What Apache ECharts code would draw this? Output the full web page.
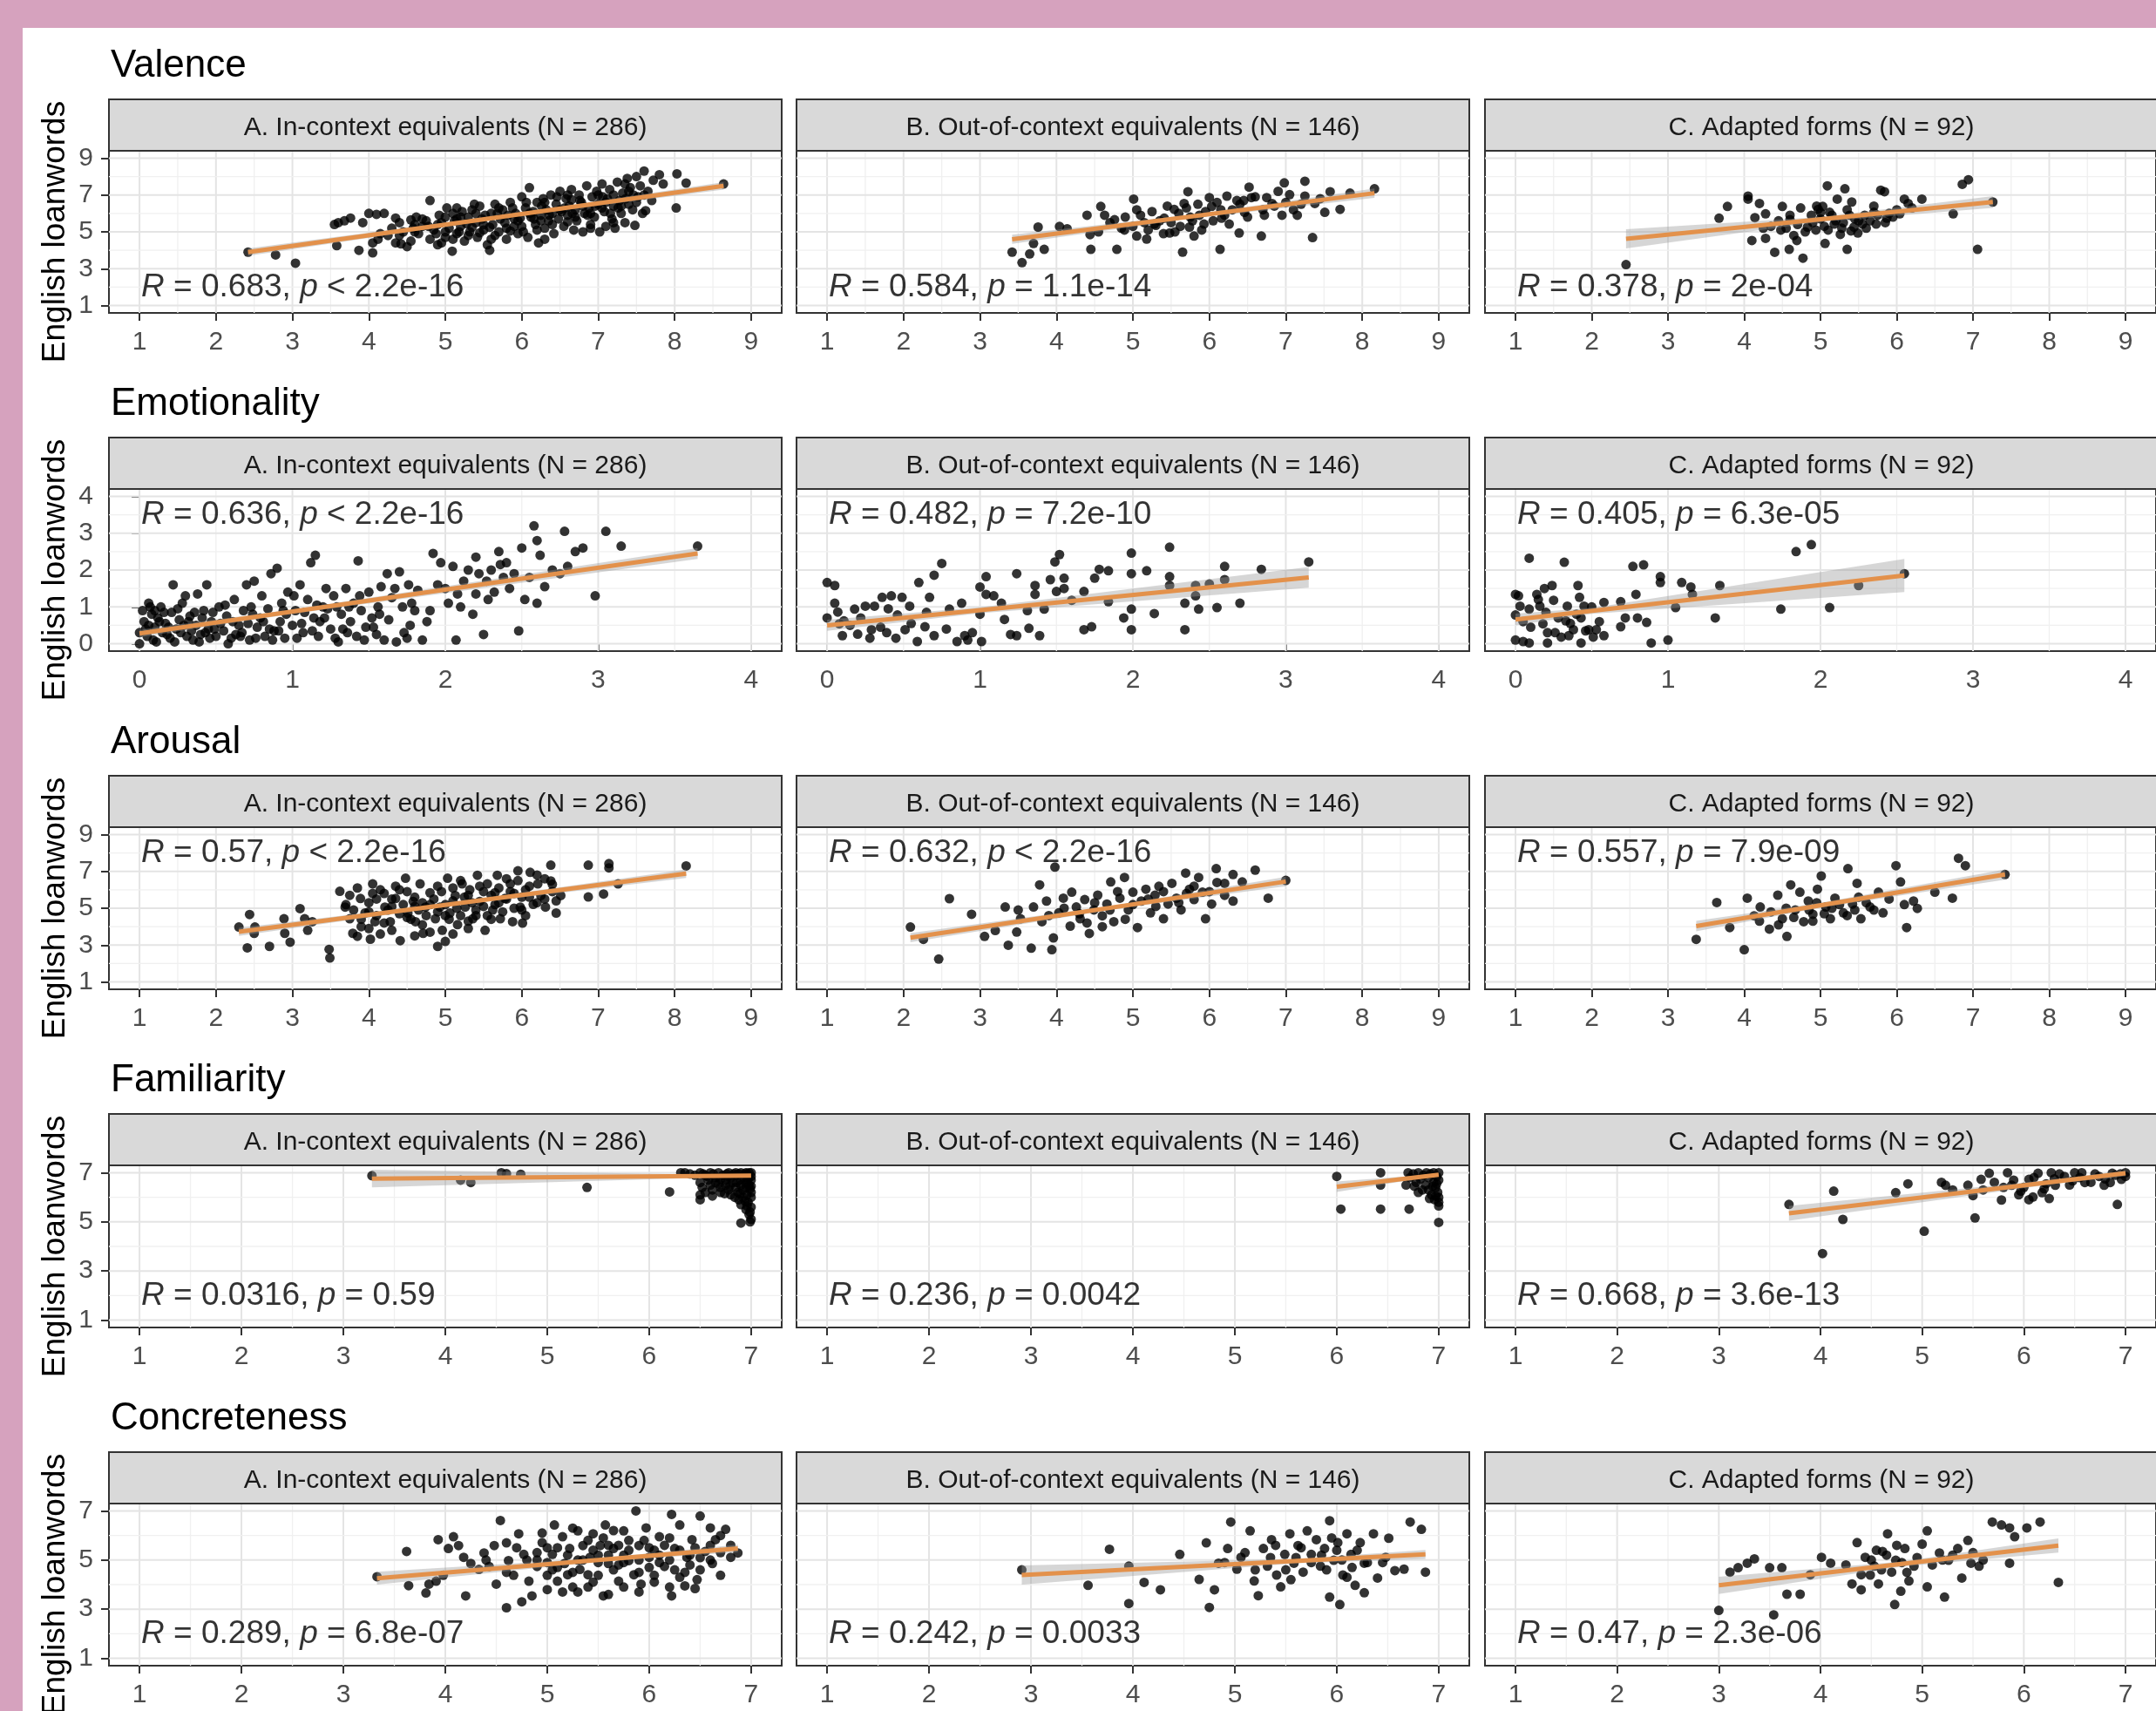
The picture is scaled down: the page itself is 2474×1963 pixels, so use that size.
<!DOCTYPE html>
<html><head><meta charset="utf-8">
<script src="https://cdn.jsdelivr.net/npm/echarts@6/dist/echarts.min.js"></script>
<style>
html,body{margin:0;padding:0;background:#d6a2be;width:2474px;height:1963px;overflow:hidden;}
#c{position:absolute;left:26px;top:32px;width:2448px;height:1931px;background:#fff;}
</style></head>
<body><div id="c"></div>
<script>
// ---------- text ----------
const rowTitles = ['Valence','Emotionality','Arousal','Familiarity','Concreteness'];
const stripLabels = ['A. In-context equivalents (N = 286)','B. Out-of-context equivalents (N = 146)','C. Adapted forms (N = 92)'];
const yAxisTitle = 'English loanwords';
// ---------- tick labels ----------
const ticks1to9 = [1,2,3,4,5,6,7,8,9];
const ticksOdd9 = [1,3,5,7,9];
const ticks0to4 = [0,1,2,3,4];
const ticks1to7 = [1,2,3,4,5,6,7];
const ticksOdd7 = [1,3,5,7];
// ---------- correlation statistics ----------
const rValues = [['0.683','0.584','0.378'],['0.636','0.482','0.405'],['0.57','0.632','0.557'],['0.0316','0.236','0.668'],['0.289','0.242','0.47']];
const pTexts = [['< 2.2e-16','= 1.1e-14','= 2e-04'],['< 2.2e-16','= 7.2e-10','= 6.3e-05'],['< 2.2e-16','< 2.2e-16','= 7.9e-09'],['= 0.59','= 0.0042','= 3.6e-13'],['= 6.8e-07','= 0.0033','= 2.3e-06']];
const statLabelPos = [[1,2],[0,3.5],[1,8],[1,2],[1,2]];

// ---------- Valence ----------
const valA = [[2.42,3.9],[2.78,3.75],[3.04,3.3],[3.55,5.4],[3.6,5.5],[3.68,5.6],[3.76,5.75],[3.58,4.25],[3.87,4.0],[3.92,5.5],[4.0,6.0],[4.1,5.95],[4.2,6.0],[4.05,3.86],[4.05,4.4],[4.12,4.6],[4.15,4.9],[4.3,5.2],[4.35,5.75],[4.4,5.5],[4.42,4.35],[4.5,4.2],[4.55,4.5],[4.6,5.4],[4.62,5.8],[4.7,5.3],[4.75,5.6],[4.8,6.7],[4.85,5.1],[4.9,4.3],[4.92,5.9],[4.95,5.5],[5.0,4.7],[5.05,5.2],[5.09,3.95],[5.1,6.0],[5.12,5.6],[5.15,4.9],[5.2,5.3],[5.22,6.1],[5.25,4.5],[5.3,5.8],[5.32,5.0],[5.35,6.2],[5.4,5.5],[5.42,4.7],[5.45,6.4],[5.5,5.1],[5.52,5.9],[5.55,4.3],[5.58,4.0],[5.6,6.0],[5.62,5.4],[5.65,6.5],[5.7,5.0],[5.72,5.7],[5.75,6.2],[5.8,4.6],[5.82,5.9],[5.85,6.6],[5.9,5.3],[5.92,6.0],[5.95,5.6],[6.0,6.9],[6.02,5.0],[6.05,6.3],[6.08,4.7],[6.1,7.4],[6.12,5.8],[6.15,6.1],[6.18,5.4],[6.2,6.6],[6.22,4.4],[6.25,5.9],[6.28,6.8],[6.3,5.2],[6.32,6.2],[6.35,5.6],[6.38,7.0],[6.4,6.0],[6.42,4.9],[6.45,6.5],[6.48,5.7],[6.5,7.2],[6.52,6.1],[6.55,5.3],[6.58,6.8],[6.6,5.9],[6.62,6.4],[6.65,7.3],[6.68,5.1],[6.7,6.2],[6.72,5.6],[6.75,7.0],[6.78,6.6],[6.8,5.0],[6.82,6.0],[6.85,7.5],[6.88,6.3],[6.9,5.4],[6.92,6.9],[6.95,5.8],[6.98,7.2],[7.0,6.5],[7.02,5.0],[7.05,7.6],[7.08,6.1],[7.1,5.3],[7.12,6.8],[7.15,7.3],[7.18,5.7],[7.2,6.4],[7.22,5.2],[7.25,7.7],[7.28,6.7],[7.3,6.0],[7.32,7.1],[7.35,5.5],[7.38,7.9],[7.4,6.5],[7.42,7.4],[7.45,6.2],[7.48,5.35],[7.5,8.0],[7.52,6.9],[7.55,7.5],[7.58,6.0],[7.6,8.3],[7.62,6.15],[7.65,7.2],[7.7,6.7],[7.72,7.8],[7.8,8.1],[7.85,7.6],[8.02,6.3],[8.03,8.15],[8.15,7.65],[8.64,7.6],[4.45,5.0],[4.65,4.9],[4.78,5.3],[5.0,5.8],[5.18,5.0],[5.28,5.45],[5.38,6.5],[5.48,5.7],[5.58,5.25],[5.68,6.0],[5.78,5.5],[5.88,6.3],[5.98,5.75],[6.06,6.6],[6.16,5.7],[6.26,6.4],[6.36,5.9],[6.46,6.9],[6.56,6.3],[6.66,6.0],[6.76,6.7],[6.86,5.9],[6.96,6.4],[7.06,6.9],[7.16,6.0],[7.26,6.3],[7.36,6.8],[7.46,7.0],[4.25,4.8],[4.35,4.4],[4.58,5.2],[4.88,4.9],[5.02,6.3],[5.15,5.7],[4.95,4.4],[5.35,5.25],[5.65,4.8],[5.95,4.9],[6.3,4.6],[6.6,5.55],[6.9,5.2],[7.2,5.5],[4.6,5.0],[4.7,5.7],[4.8,4.6],[4.9,5.4],[5.0,5.0],[5.1,4.6],[5.2,5.8],[5.3,4.8],[5.4,6.0],[5.5,5.4],[5.6,4.6],[5.7,6.3],[5.8,5.2],[5.9,5.7],[6.0,5.3],[6.1,6.0],[6.2,5.1],[6.3,6.6],[6.4,5.4],[6.5,6.2],[6.6,7.0],[6.7,5.8],[6.8,6.4],[6.9,6.0],[7.0,7.0],[7.1,6.6],[7.2,7.0],[7.3,6.4],[7.4,7.2],[7.5,6.6],[7.6,7.0],[5.45,4.95],[5.85,5.05],[6.25,5.6],[6.65,6.75],[7.05,6.3],[7.35,7.6],[5.15,6.3],[4.55,5.65],[4.4,4.8]];
const valB = [[3.42,3.9],[3.55,3.33],[3.65,3.8],[3.7,4.37],[3.76,5.26],[3.84,4.05],[4.04,5.29],[4.14,5.17],[4.4,5.9],[4.45,4.05],[4.44,4.85],[4.58,6.38],[4.63,5.9],[4.79,4.05],[4.76,5.66],[4.89,5.1],[5.01,6.78],[5.05,4.77],[5.18,4.61],[5.28,5.42],[5.41,5.74],[5.48,4.94],[5.54,6.22],[5.65,3.9],[5.67,6.54],[5.72,7.18],[5.74,5.26],[5.8,4.77],[5.87,5.9],[5.93,5.42],[6.0,6.86],[6.03,6.38],[6.14,4.05],[6.16,5.74],[6.23,6.94],[6.26,5.42],[6.36,6.7],[6.39,4.94],[6.46,6.06],[6.52,7.43],[6.55,6.86],[6.68,4.77],[6.72,5.9],[6.75,6.86],[6.82,6.54],[6.95,5.9],[6.98,7.66],[7.05,7.02],[7.15,5.9],[7.25,7.75],[7.25,6.94],[7.35,4.69],[7.38,6.54],[7.51,6.06],[7.58,7.18],[7.71,6.22],[7.84,7.1],[8.16,7.34],[4.7,5.5],[4.9,5.8],[5.0,5.3],[5.1,5.9],[5.2,5.1],[5.25,6.1],[5.35,5.6],[5.4,4.9],[5.45,6.4],[5.5,5.5],[5.55,5.0],[5.6,6.0],[5.62,5.3],[5.7,6.3],[5.78,5.6],[5.85,6.5],[5.9,5.1],[5.95,6.1],[6.05,5.6],[6.1,6.6],[6.2,5.9],[6.3,6.2],[6.4,6.5],[6.5,5.8],[6.6,6.9],[6.7,6.2],[6.85,6.4],[7.0,6.6],[7.1,6.2],[7.2,6.5],[7.45,6.8],[5.15,5.5],[4.85,5.2],[4.55,5.0],[5.05,6.2],[5.3,5.35],[5.75,5.8],[6.15,6.2],[6.45,6.7],[6.9,7.2]];
const valC = [[2.45,3.22],[3.67,5.74],[3.78,6.38],[4.05,6.94],[4.05,6.78],[4.1,4.53],[4.14,5.77],[4.2,6.54],[4.28,4.65],[4.28,5.98],[4.4,3.89],[4.48,5.1],[4.5,6.38],[4.59,4.05],[4.6,5.66],[4.69,4.53],[4.74,6.3],[4.77,3.57],[4.83,5.26],[4.88,5.9],[4.94,5.1],[4.97,6.22],[5.03,6.38],[5.06,4.37],[5.09,7.5],[5.12,6.06],[5.18,5.42],[5.22,6.78],[5.26,4.86],[5.32,7.34],[5.35,4.05],[5.38,5.9],[5.41,6.62],[5.44,5.26],[5.49,4.94],[5.55,5.42],[5.58,5.9],[5.7,6.06],[5.73,5.42],[5.79,7.26],[5.84,7.18],[5.87,5.74],[6.04,5.98],[6.1,6.78],[6.15,6.54],[6.33,6.78],[6.74,5.98],[6.86,7.58],[6.94,7.83],[7.06,4.05],[7.26,6.62],[4.9,5.5],[5.0,5.7],[5.05,5.3],[5.15,5.9],[5.2,5.6],[5.28,5.2],[5.45,5.7],[5.6,5.2],[5.65,5.6],[5.75,5.9],[5.85,5.5],[5.95,5.8],[4.7,5.4],[4.55,5.2],[4.8,5.0],[5.1,5.1],[5.3,5.5],[5.4,5.05],[5.5,5.6],[4.65,4.8],[4.35,5.3],[4.45,5.6],[4.25,5.2],[5.9,6.0],[6.2,6.3],[5.0,6.05],[4.95,6.4],[5.35,6.2],[5.7,6.4],[4.6,5.9],[6.0,6.2]];
const fitValA = [[2.42,3.9],[8.64,7.5]];
const fitValB = [[3.42,4.6],[8.16,7.1]];
const fitValC = [[2.45,4.62],[7.26,6.62]];
const bandValA = [[2.42,3.7,4.1],[5.8,5.78,5.94],[8.64,7.3,7.7]];
const bandValB = [[3.42,4.35,4.85],[5.8,5.75,5.95],[8.16,6.85,7.35]];
const bandValC = [[2.45,4.1,5.14],[5.0,5.55,5.8],[7.26,6.3,6.94]];

// ---------- Emotionality ----------
const emoA = [[0.0,0.3],[0.02,0.9],[0.03,0.6],[0.05,0.2],[0.06,1.1],[0.08,0.8],[0.1,0.45],[0.11,0.05],[0.12,0.7],[0.14,1.0],[0.15,0.3],[0.17,0.55],[0.2,0.15],[0.21,0.85],[0.22,1.6],[0.24,0.4],[0.26,0.65],[0.28,1.1],[0.3,1.3],[0.31,0.2],[0.33,0.75],[0.35,0.1],[0.37,0.5],[0.38,1.35],[0.4,0.25],[0.42,0.9],[0.44,1.6],[0.45,0.4],[0.47,0.6],[0.5,0.2],[0.52,1.0],[0.55,0.35],[0.57,0.75],[0.6,0.15],[0.62,1.2],[0.65,0.5],[0.67,0.3],[0.7,1.6],[0.72,0.1],[0.74,0.8],[0.75,1.7],[0.77,0.45],[0.8,1.3],[0.82,0.2],[0.84,0.95],[0.86,1.9],[0.88,0.35],[0.9,2.05],[0.92,0.6],[0.93,1.1],[0.95,0.15],[0.97,1.4],[1.0,0.5],[1.02,0.9],[1.05,1.6],[1.07,0.3],[1.1,1.2],[1.12,2.2],[1.14,0.7],[1.15,2.4],[1.17,0.2],[1.2,1.0],[1.22,1.5],[1.25,0.4],[1.27,1.3],[1.3,0.05],[1.32,0.8],[1.35,1.5],[1.38,0.6],[1.4,1.1],[1.42,0.2],[1.43,2.25],[1.45,0.9],[1.48,0.45],[1.5,1.4],[1.52,0.7],[1.55,0.25],[1.56,1.0],[1.58,1.55],[1.6,0.1],[1.62,1.9],[1.65,1.25],[1.68,0.05],[1.7,1.95],[1.72,1.0],[1.75,0.15],[1.76,1.6],[1.78,1.1],[1.8,0.9],[1.82,1.45],[1.88,0.6],[1.92,2.45],[1.95,1.6],[1.97,2.2],[2.0,1.5],[2.02,1.1],[2.05,2.1],[2.07,0.1],[2.1,1.0],[2.12,1.7],[2.15,2.0],[2.18,0.8],[2.2,1.35],[2.2,2.35],[2.22,1.9],[2.25,0.25],[2.27,1.7],[2.3,2.0],[2.32,1.4],[2.35,2.5],[2.38,1.8],[2.4,2.2],[2.42,1.5],[2.45,1.9],[2.48,0.35],[2.5,2.6],[2.52,1.2],[2.55,1.8],[2.58,3.2],[2.6,2.8],[2.6,1.1],[2.62,2.4],[2.65,1.55],[2.7,2.0],[2.75,1.9],[2.78,3.05],[2.8,2.1],[2.85,2.5],[2.9,2.6],[2.98,1.3],[3.05,3.05],[3.15,2.65],[3.65,2.65],[0.0,0.0],[0.04,0.4],[0.07,1.0],[0.09,0.1],[0.13,0.6],[0.16,0.85],[0.18,0.25],[0.23,0.05],[0.27,0.3],[0.32,0.6],[0.36,0.85],[0.39,0.05],[0.43,0.3],[0.46,0.15],[0.48,0.85],[0.53,0.55],[0.58,0.0],[0.63,0.25],[0.68,0.9],[0.71,0.55],[0.76,0.15],[0.81,0.6],[0.87,0.1],[0.91,0.35],[0.96,0.8],[1.03,0.15],[1.08,0.85],[1.13,0.35],[1.18,0.6],[1.23,0.95],[1.28,0.15],[1.33,0.4],[1.37,1.0],[1.47,0.1],[1.53,0.45],[1.63,0.65],[1.73,0.3],[1.85,0.1],[1.9,0.9],[0.06,0.5],[0.1,0.9],[0.19,0.45],[0.25,0.95],[0.29,0.5],[0.34,0.35],[0.41,0.7],[0.49,0.4],[0.56,1.05],[0.61,0.6],[0.66,0.2],[0.73,1.0],[0.79,0.7],[0.85,0.4],[0.94,0.9],[1.01,1.3],[1.06,0.55],[1.16,1.05],[1.21,0.7],[1.29,1.0],[1.36,0.3],[1.44,1.3],[1.57,0.8],[1.67,1.5],[1.77,0.5],[2.08,1.35],[2.28,1.2],[2.36,2.15]];
const emoB = [[0,1.66],[0.05,1.58],[0,0.7],[0.05,1.1],[0.07,0.86],[0.08,0.54],[0.1,0.22],[0.11,0.62],[0.18,0.94],[0.2,0.26],[0.25,1.02],[0.29,0.38],[0.31,1.02],[0.36,1.26],[0.39,0.3],[0.42,1.3],[0.46,0.78],[0.49,1.26],[0.51,0.38],[0.54,1.02],[0.59,0.06],[0.6,1.66],[0.64,0.46],[0.67,1.26],[0.7,1.86],[0.7,0.22],[0.75,2.18],[0.8,0.94],[0.85,0.06],[0.88,1.1],[0.9,0.22],[0.95,0.3],[1.0,1.54],[1.01,0.06],[1.04,1.82],[1.04,1.34],[1.09,1.3],[1.14,1.1],[1.16,0.66],[1.24,1.9],[1.24,0.22],[1.31,0.9],[1.32,0.42],[1.36,1.58],[1.36,1.34],[1.39,0.22],[1.42,0.94],[1.46,1.74],[1.49,2.22],[1.52,2.42],[1.5,1.42],[1.55,1.78],[1.55,1.5],[1.6,1.18],[1.68,1.42],[1.68,0.38],[1.73,0.46],[1.75,1.78],[1.78,2.02],[1.84,1.98],[1.84,1.14],[1.94,0.7],[1.99,2.46],[1.99,1.9],[1.99,0.94],[1.99,0.38],[2.09,1.98],[2.14,0.82],[2.24,2.62],[2.24,1.82],[2.24,1.58],[2.34,1.1],[2.34,0.38],[2.41,1.58],[2.41,1.3],[2.43,0.94],[2.5,1.62],[2.55,0.98],[2.6,2.1],[2.6,1.74],[2.7,1.1],[2.84,2.02],[3.15,2.22],[0.15,0.5],[0.22,0.7],[0.35,0.45],[0.45,0.15],[0.55,0.55],[0.65,0.85],[0.78,0.4],[0.92,0.1],[1.0,0.8],[1.2,0.25],[0.4,0.95],[0.28,0.15]];
const emoC = [[0.09,2.32],[0.32,2.21],[0,1.34],[0.02,1.3],[0,0.78],[0,0.1],[0.05,0.06],[0.09,0.02],[0.03,1.02],[0.09,0.94],[0.14,1.34],[0.16,1.02],[0.18,0.54],[0.19,1.5],[0.21,0.02],[0.21,0.3],[0.24,1.58],[0.25,1.18],[0.28,0.7],[0.3,0.18],[0.33,0.62],[0.34,1.02],[0.35,0.22],[0.38,0.38],[0.41,1.58],[0.42,1.26],[0.43,0.02],[0.43,0.7],[0.45,1.02],[0.48,0.38],[0.51,0.18],[0.53,0.38],[0.58,0.22],[0.58,1.12],[0.69,1.14],[0.69,0.46],[0.72,0.7],[0.77,2.1],[0.79,1.34],[0.8,0.7],[0.84,2.14],[0.86,0.58],[0.89,0.02],[0.95,1.82],[0.95,1.66],[1.0,0.1],[1.05,0.98],[1.09,1.66],[1.15,1.54],[1.16,1.34],[1.31,0.7],[1.34,1.58],[1.74,0.94],[1.84,2.5],[1.94,2.69],[2.06,0.98],[2.25,1.58],[2.55,1.9],[0.1,0.45],[0.2,0.85],[0.26,0.3],[0.36,0.55],[0.46,0.35],[0.55,0.6],[0.15,1.2],[0.05,0.6],[0.4,0.8],[0.5,1.0]];
const fitEmoA = [[0,0.28],[3.65,2.45]];
const fitEmoB = [[0,0.5],[3.15,1.8]];
const fitEmoC = [[0,0.66],[2.55,1.85]];
const bandEmoA = [[0,0.18,0.38],[1.0,0.81,0.93],[3.65,2.3,2.6]];
const bandEmoB = [[0,0.35,0.65],[1.0,0.83,0.99],[3.15,1.52,2.08]];
const bandEmoC = [[0,0.5,0.82],[0.5,0.81,0.97],[2.55,1.4,2.3]];

// ---------- Arousal ----------
const aroA = [[2.3,3.98],[2.41,2.85],[2.44,4.66],[2.5,3.64],[2.51,3.98],[2.7,2.93],[2.89,4.43],[2.9,3.64],[2.97,3.16],[3.1,4.98],[3.16,4.43],[3.2,3.8],[3.26,4.27],[3.48,2.77],[3.49,2.3],[3.62,5.92],[3.69,5.06],[3.75,4.43],[3.79,3.64],[3.85,3.48],[3.89,5.53],[3.95,4.74],[4.02,3.32],[4.05,6.32],[4.08,4.27],[4.15,6.0],[4.21,5.06],[4.28,4.27],[4.35,5.53],[4.41,3.24],[4.48,6.63],[4.51,4.74],[4.58,5.37],[4.61,4.27],[4.67,6.32],[4.71,3.64],[4.74,5.06],[4.8,5.84],[4.87,4.43],[4.9,2.93],[4.93,5.06],[4.96,3.8],[5.03,6.63],[5.06,4.74],[5.13,5.69],[5.16,4.11],[5.22,6.32],[5.26,5.06],[5.32,6.0],[5.36,4.43],[5.42,6.79],[5.45,5.37],[5.52,3.8],[5.55,6.32],[5.62,4.9],[5.65,5.84],[5.68,6.79],[5.72,4.43],[5.78,5.53],[5.85,6.32],[5.88,4.27],[5.95,7.03],[5.98,5.06],[6.01,4.19],[6.05,6.0],[6.11,6.95],[6.15,5.21],[6.21,6.32],[6.25,5.69],[6.31,5.06],[6.38,7.34],[6.38,6.48],[6.45,4.74],[6.51,5.69],[6.87,7.34],[6.87,5.61],[7.07,5.77],[7.14,7.42],[7.14,7.19],[7.26,6.32],[8.15,7.3],[3.7,5.2],[3.8,4.9],[3.9,4.4],[4.0,5.3],[4.1,4.6],[4.2,5.8],[4.25,4.9],[4.3,5.5],[4.4,4.7],[4.45,5.2],[4.5,5.9],[4.55,4.4],[4.6,5.6],[4.65,4.9],[4.7,5.3],[4.75,4.6],[4.85,5.5],[4.9,4.8],[4.95,5.9],[5.0,5.2],[5.05,4.4],[5.1,6.1],[5.15,5.0],[5.2,4.6],[5.25,5.6],[5.3,4.3],[5.35,5.3],[5.4,4.9],[5.45,6.2],[5.5,5.1],[5.55,4.6],[5.6,5.7],[5.65,5.2],[5.7,6.1],[5.75,4.8],[5.8,5.5],[5.85,5.9],[5.9,5.0],[5.95,6.5],[6.0,5.6],[6.05,4.6],[6.1,6.2],[6.2,5.3],[6.3,6.6],[6.4,5.9],[6.45,5.4],[4.0,3.9],[4.3,3.8],[4.8,3.7],[5.1,3.6],[3.85,6.1],[4.35,6.2],[4.0,4.8],[4.1,5.5],[4.2,4.2],[4.3,5.1],[4.4,6.0],[4.5,4.5],[4.6,5.1],[4.7,4.1],[4.8,5.2],[4.9,6.2],[5.0,4.6],[5.1,5.4],[5.2,6.5],[5.3,5.7],[5.4,4.6],[5.5,5.9],[5.6,4.4],[5.7,5.3],[5.8,6.6],[5.9,5.8],[6.0,4.9],[6.1,5.6],[6.2,6.8],[6.3,5.5],[6.4,6.3],[3.9,4.0],[4.15,3.6],[4.6,3.5],[5.3,3.9],[5.0,3.2],[3.75,5.7],[4.05,5.8]];
const aroB = [[2.09,3.98],[2.26,3.31],[2.46,2.24],[2.6,5.52],[2.89,4.67],[3.06,3.47],[3.2,3.79],[3.33,5.07],[3.37,2.99],[3.48,3.71],[3.53,4.43],[3.67,2.83],[3.7,5.07],[3.78,6.27],[3.81,4.27],[3.87,5.39],[3.94,2.75],[3.96,3.39],[3.98,7.23],[4.03,4.75],[4.09,5.55],[4.18,4.03],[4.2,5.87],[4.26,5.07],[4.31,4.43],[4.37,5.47],[4.43,3.63],[4.49,4.91],[4.54,5.71],[4.6,4.59],[4.66,5.23],[4.71,6.43],[4.75,4.27],[4.83,5.55],[4.89,6.67],[4.94,4.91],[5.0,5.87],[5.06,3.95],[5.11,5.39],[5.17,6.03],[5.23,4.75],[5.29,5.71],[5.34,6.19],[5.4,4.43],[5.46,5.23],[5.51,6.35],[5.57,5.55],[5.63,4.91],[5.69,6.91],[5.74,6.03],[5.8,5.47],[5.86,6.67],[5.91,5.87],[5.95,4.43],[6.03,5.23],[6.09,7.15],[6.2,6.35],[6.31,6.83],[6.31,5.39],[6.43,6.43],[6.6,7.07],[6.77,5.55],[7.0,6.51],[3.5,4.9],[3.9,4.6],[4.1,5.0],[4.3,4.7],[4.5,5.3],[4.7,4.9],[4.8,5.9],[5.0,5.2],[5.2,5.5],[5.4,5.9],[5.6,5.3],[5.8,6.2],[6.0,5.9],[6.2,5.7],[4.4,4.2],[4.6,4.0],[4.9,4.4],[5.3,5.1],[5.7,5.8],[6.1,6.4]];
const aroC = [[3.37,3.31],[3.64,5.31],[3.81,3.95],[4.0,2.75],[4.04,5.55],[4.13,4.59],[4.21,5.07],[4.33,3.87],[4.44,5.71],[4.5,4.43],[4.56,3.47],[4.61,6.27],[4.67,4.91],[4.73,5.87],[4.78,4.27],[4.84,5.39],[4.9,4.67],[4.96,6.03],[5.01,6.75],[5.07,5.07],[5.13,4.43],[5.19,5.55],[5.3,4.75],[5.36,7.15],[5.42,5.23],[5.48,6.35],[5.53,4.43],[5.65,5.07],[5.76,5.87],[5.82,4.75],[5.99,7.31],[6.05,6.43],[6.13,3.95],[6.22,5.39],[6.27,4.99],[6.5,5.87],[6.73,5.55],[6.81,7.71],[6.9,7.31],[7.42,6.83],[4.2,4.3],[4.35,4.8],[4.55,5.0],[4.65,4.5],[4.85,4.9],[4.95,5.3],[5.05,4.7],[5.15,5.0],[5.25,5.2],[5.35,4.6],[5.45,4.9],[5.6,5.3],[5.7,4.9],[5.9,5.5],[6.1,5.2],[4.45,4.1],[4.9,4.3],[5.5,5.6]];
const fitAroA = [[2.3,3.72],[8.15,6.88]];
const fitAroB = [[2.09,3.4],[7.0,6.45]];
const fitAroC = [[3.37,4.03],[7.42,6.83]];
const bandAroA = [[2.3,3.5,3.94],[5.0,5.1,5.26],[8.15,6.65,7.11]];
const bandAroB = [[2.09,3.15,3.65],[4.8,4.98,5.18],[7.0,6.2,6.7]];
const bandAroC = [[3.37,3.75,4.31],[5.0,5.03,5.29],[7.42,6.55,7.11]];

// ---------- Familiarity ----------
const famA = [[3.28,6.88],[4.15,6.7],[4.25,6.6],[4.55,7.0],[4.6,6.96],[4.74,6.94],[5.39,6.4],[6.2,6.22],[6.31,7.0],[6.35,7.0],[6.5,7.0],[6.5,6.6],[6.52,6.4],[6.5,6.1],[6.5,5.9],[6.55,6.9],[6.58,6.7],[6.6,7.0],[6.6,6.5],[6.62,6.3],[6.65,6.8],[6.65,6.6],[6.68,7.0],[6.7,6.4],[6.7,6.2],[6.72,6.9],[6.75,6.7],[6.75,6.5],[6.78,7.0],[6.78,6.3],[6.8,6.8],[6.8,6.1],[6.82,6.6],[6.85,7.0],[6.85,6.4],[6.85,6.9],[6.87,6.2],[6.88,5.9],[6.9,6.7],[6.9,7.0],[6.9,6.5],[6.9,5.7],[6.9,4.95],[6.92,6.3],[6.92,6.0],[6.93,6.8],[6.95,7.0],[6.95,6.6],[6.95,6.4],[6.95,5.5],[6.96,6.1],[6.97,5.8],[6.97,6.9],[6.98,7.0],[6.98,6.5],[6.98,5.3],[6.99,5.0],[7.0,7.0],[7.0,6.7],[7.0,6.2],[7.0,5.6],[7.0,5.1],[7.0,6.0],[7.0,6.85],[6.99,6.35],[6.97,6.75],[6.94,6.95],[6.88,6.95],[6.83,6.95],[6.76,6.95],[6.7,6.75],[6.63,6.95],[6.57,6.85],[6.53,6.95],[6.45,6.9],[6.4,6.95],[6.55,6.2],[6.62,6.05],[6.68,6.55],[6.74,6.15],[6.79,6.45],[6.84,6.0],[6.89,6.15],[6.94,5.85],[6.96,5.65],[6.99,5.4],[7.0,6.45],[6.86,6.6],[6.77,6.85]];
const famB = [[6.0,6.85],[6.04,5.52],[6.43,7.0],[6.43,6.5],[6.43,5.52],[6.71,5.52],[6.68,6.5],[7.0,4.98],[7.0,5.65],[6.7,7.0],[6.72,6.8],[6.75,6.95],[6.78,6.6],[6.8,7.0],[6.82,6.75],[6.85,6.9],[6.87,6.5],[6.88,7.0],[6.9,6.3],[6.9,6.8],[6.92,6.95],[6.93,6.1],[6.95,6.6],[6.95,7.0],[6.96,5.9],[6.97,6.4],[6.98,6.85],[6.99,6.2],[7.0,7.0],[7.0,6.7],[7.0,6.0],[7.0,5.8],[6.98,6.55],[6.94,6.45],[6.84,6.3],[6.76,6.45],[6.8,6.2],[6.91,5.95],[6.97,6.05]];
const famC = [[3.69,5.71],[4.13,6.25],[4.22,5.1],[4.02,3.71],[4.74,6.19],[4.86,6.55],[5.02,4.62],[5.19,6.61],[5.23,6.49],[5.45,6.49],[5.5,6.07],[5.52,5.16],[5.58,6.73],[5.66,6.98],[5.71,6.61],[5.78,5.89],[5.84,7.0],[5.88,6.49],[5.97,6.25],[6.05,6.73],[6.09,6.01],[6.14,6.98],[6.18,6.19],[6.22,6.55],[6.27,7.0],[6.31,6.49],[6.4,6.85],[6.48,6.67],[6.57,7.0],[6.66,6.61],[6.74,6.85],[6.79,6.49],[6.87,6.98],[6.92,5.71],[6.96,6.73],[7.0,7.0],[7.0,6.85],[5.3,6.3],[5.6,6.3],[5.9,6.7],[6.0,6.4],[6.1,6.8],[6.2,6.35],[6.3,6.75],[6.35,6.95],[6.45,6.5],[6.55,6.8],[6.6,6.6],[6.7,6.95],[6.8,6.75],[6.9,6.9],[6.95,6.95],[5.95,6.1],[6.05,5.9],[6.25,5.95],[5.8,6.4],[6.5,7.0],[6.85,6.6]];
const fitFamA = [[3.28,6.76],[7.0,6.88]];
const fitFamB = [[6.0,6.43],[7.0,6.92]];
const fitFamC = [[3.69,5.35],[7.0,6.98]];
const bandFamA = [[3.28,6.4,7.12],[6.9,6.84,6.91],[7.0,6.84,6.92]];
const bandFamB = [[6.0,6.22,6.64],[6.9,6.82,6.92],[7.0,6.86,6.98]];
const bandFamC = [[3.69,5.05,5.65],[6.3,6.55,6.72],[7.0,6.86,7.1]];

// ---------- Concreteness ----------
const conA = [[3.33,4.32],[3.62,5.35],[3.64,3.96],[3.81,3.66],[3.84,4.02],[3.91,4.14],[3.93,5.83],[3.98,4.38],[4.03,5.47],[4.08,5.95],[4.13,5.59],[4.18,5.11],[4.2,3.54],[4.25,4.86],[4.33,4.62],[4.38,5.29],[4.43,4.74],[4.48,5.59],[4.5,4.02],[4.54,6.61],[4.6,3.06],[4.62,4.98],[4.67,4.38],[4.72,6.07],[4.75,3.3],[4.77,5.23],[4.82,4.14],[4.85,3.54],[4.9,4.74],[4.95,5.71],[5.0,4.38],[5.05,5.23],[5.07,6.43],[5.1,4.14],[5.15,5.95],[5.17,4.86],[5.22,5.47],[5.25,3.9],[5.3,6.19],[5.32,4.62],[5.35,5.59],[5.4,3.9],[5.42,5.11],[5.45,6.07],[5.5,4.38],[5.52,5.59],[5.55,3.54],[5.57,6.43],[5.6,4.86],[5.65,5.47],[5.7,4.14],[5.75,6.19],[5.8,4.98],[5.87,7.0],[5.9,5.59],[5.92,4.02],[5.97,6.31],[6.0,5.11],[6.05,4.38],[6.1,5.95],[6.15,4.74],[6.22,3.54],[6.22,6.86],[6.25,5.47],[6.3,6.43],[6.35,4.5],[6.37,5.11],[6.42,5.83],[6.47,4.2],[6.5,6.79],[6.55,5.35],[6.6,6.31],[6.62,4.86],[6.65,5.83],[6.7,4.38],[6.75,6.25],[6.8,5.11],[6.87,5.29],[6.45,3.84],[4.9,5.0],[5.0,5.5],[5.1,4.7],[5.2,5.2],[5.25,4.5],[5.35,5.0],[5.4,4.4],[5.45,5.4],[5.5,4.9],[5.55,5.9],[5.6,5.2],[5.65,4.6],[5.7,5.6],[5.75,4.9],[5.8,5.4],[5.85,4.4],[5.9,5.0],[5.95,5.8],[6.0,4.7],[6.05,5.4],[6.1,4.9],[6.15,5.6],[6.2,5.0],[6.3,5.4],[6.4,4.8],[6.45,5.5],[6.5,5.1],[6.6,5.6],[6.7,5.3],[4.8,5.0],[4.7,5.5],[4.6,4.5],[5.0,3.8],[5.3,3.7],[5.6,3.6],[5.9,3.7],[6.2,3.9],[5.05,4.6],[5.75,5.2],[6.25,4.6],[4.9,5.3],[5.0,4.9],[5.1,5.5],[5.2,4.4],[5.3,5.0],[5.4,5.8],[5.5,5.2],[5.6,5.6],[5.7,4.8],[5.8,5.8],[5.9,4.5],[6.0,5.5],[6.1,5.2],[6.2,5.9],[6.3,4.3],[6.4,5.2],[6.5,4.6],[6.6,5.0],[6.7,6.0],[6.8,5.6],[4.6,5.7],[4.4,5.0],[5.15,3.7],[5.45,4.1],[5.75,3.9],[6.05,4.1],[6.35,3.95],[4.95,6.1],[5.25,6.3],[5.65,6.2]];
const conB = [[2.91,4.6],[3.56,3.97],[3.77,5.44],[3.96,4.75],[3.96,3.23],[4.11,4.09],[4.27,3.79],[4.46,5.23],[4.65,4.21],[4.72,5.7],[4.75,3.07],[4.8,3.79],[4.84,4.87],[4.93,5.47],[4.96,6.55],[5.02,4.63],[5.06,5.11],[5.15,6.19],[5.19,4.15],[5.23,3.55],[5.28,5.47],[5.32,4.75],[5.36,5.83],[5.41,4.39],[5.45,3.91],[5.49,5.23],[5.54,6.07],[5.58,4.87],[5.62,5.59],[5.67,4.51],[5.71,6.19],[5.75,5.23],[5.8,5.83],[5.84,4.75],[5.88,5.47],[5.93,6.6],[5.93,3.49],[5.97,4.99],[6.01,5.71],[6.03,3.19],[6.06,4.39],[6.1,6.07],[6.14,5.23],[6.18,3.97],[6.23,5.71],[6.27,4.87],[6.27,3.67],[6.36,6.07],[6.4,4.27],[6.48,5.11],[6.51,5.89],[6.57,4.57],[6.66,4.63],[6.72,6.55],[6.83,6.25],[6.87,4.51],[4.9,4.9],[5.1,5.3],[5.2,4.6],[5.35,5.1],[5.5,4.6],[5.6,5.1],[5.65,5.5],[5.75,4.9],[5.85,5.2],[5.9,4.6],[6.0,5.4],[6.05,5.0],[6.15,4.7],[6.2,5.4],[6.3,4.9],[6.45,4.9],[5.4,5.6],[5.95,5.9],[5.55,4.2],[6.1,4.3]];
const conC = [[3.0,2.95],[3.11,4.51],[3.19,4.69],[3.28,4.87],[3.35,5.05],[3.5,4.69],[3.54,2.77],[3.62,4.69],[3.67,3.61],[3.8,3.61],[4.01,5.11],[4.1,4.87],[4.31,4.03],[4.36,5.71],[4.4,3.79],[4.44,5.11],[4.49,4.39],[4.53,4.75],[4.57,4.03],[4.61,5.35],[4.66,6.07],[4.7,4.51],[4.73,3.19],[4.74,4.99],[4.79,3.73],[4.83,5.47],[4.87,4.15],[4.92,4.75],[5.0,5.65],[5.05,6.19],[5.05,3.91],[5.17,5.29],[5.22,3.49],[5.26,4.99],[5.35,5.47],[5.39,4.27],[5.48,4.87],[5.56,4.75],[5.69,6.55],[5.78,6.43],[5.86,6.31],[5.86,4.87],[5.91,5.95],[6.03,6.31],[6.16,6.55],[6.34,4.09],[4.5,5.0],[4.6,4.6],[4.65,5.2],[4.8,4.9],[4.85,4.5],[4.95,5.1],[5.1,4.8],[5.2,5.0],[4.55,5.4],[4.75,5.6],[5.3,5.2],[5.5,5.3],[5.6,5.0],[5.45,5.8],[4.4,4.4],[4.25,4.8],[3.9,4.4]];
const fitConA = [[3.33,4.26],[6.87,5.47]];
const fitConB = [[2.91,4.39],[6.87,5.23]];
const fitConC = [[3.0,3.97],[6.34,5.59]];
const bandConA = [[3.33,4.0,4.52],[5.5,4.93,5.07],[6.87,5.32,5.62]];
const bandConB = [[2.91,4.0,4.78],[5.6,4.87,5.05],[6.87,5.05,5.41]];
const bandConC = [[3.0,3.62,4.32],[4.8,4.74,4.94],[6.34,5.3,5.88]];

// ---------- assemble ----------
const rows = [
  {xr:[0.6,9.4], yr:[0.6,9.4], xt:ticks1to9, yt:ticksOdd9, pts:[valA,valB,valC], fits:[fitValA,fitValB,fitValC], bands:[bandValA,bandValB,bandValC]},
  {xr:[-0.2,4.2], yr:[-0.2,4.2], xt:ticks0to4, yt:ticks0to4, pts:[emoA,emoB,emoC], fits:[fitEmoA,fitEmoB,fitEmoC], bands:[bandEmoA,bandEmoB,bandEmoC]},
  {xr:[0.6,9.4], yr:[0.6,9.4], xt:ticks1to9, yt:ticksOdd9, pts:[aroA,aroB,aroC], fits:[fitAroA,fitAroB,fitAroC], bands:[bandAroA,bandAroB,bandAroC]},
  {xr:[0.7,7.3], yr:[0.7,7.3], xt:ticks1to7, yt:ticksOdd7, pts:[famA,famB,famC], fits:[fitFamA,fitFamB,fitFamC], bands:[bandFamA,bandFamB,bandFamC]},
  {xr:[0.7,7.3], yr:[0.7,7.3], xt:ticks1to7, yt:ticksOdd7, pts:[conA,conB,conC], fits:[fitConA,fitConB,fitConC], bands:[bandConA,bandConB,bandConC]}
];

const FONT = '"Liberation Sans", Arial, Helvetica, sans-serif';
const COL_LEFT = [99, 888, 1678];
const PANEL_W = 772, STRIP_H = 59, PANEL_H = 186, ROW_TOP0 = 82, ROW_STEP = 388;
const LINE_COLOR = '#e3914b';

function mids(arr){ const m=[]; for(let i=0;i<arr.length-1;i++) m.push((arr[i]+arr[i+1])/2); return m; }

const grids=[], xAxes=[], yAxes=[], series=[], graphics=[];

function gridRender(params, api){
  const cs = params.coordSys;
  const kind = api.value(2);
  const p = api.coord([api.value(0), api.value(1)]);
  const major = (kind===0 || kind===2);
  const style = {stroke: major ? '#e4e4e4' : '#f0f0f0', lineWidth: major ? 2 : 1.3};
  if (kind < 2) return {type:'line', shape:{x1:p[0], y1:cs.y, x2:p[0], y2:cs.y+cs.height}, style};
  return {type:'line', shape:{x1:cs.x, y1:p[1], x2:cs.x+cs.width, y2:p[1]}, style};
}

rows.forEach((row, r) => {
  const stripTop = ROW_TOP0 + r*ROW_STEP;
  const panelTop = stripTop + STRIP_H;
  graphics.push({type:'text', x:101, y:stripTop-38, z:100,
    style:{text:rowTitles[r], fontSize:44, fontFamily:FONT, fill:'#000', align:'left', verticalAlign:'middle', textAlign:'left', textVerticalAlign:'middle'}});
  graphics.push({type:'text', x:38, y:panelTop+PANEL_H/2, rotation:Math.PI/2, z:100,
    style:{text:yAxisTitle, fontSize:37, fontFamily:FONT, fill:'#000', align:'center', verticalAlign:'middle', textAlign:'center', textVerticalAlign:'middle'}});
  for (let c=0;c<3;c++){
    const gi = r*3+c;
    const left = COL_LEFT[c];
    grids.push({left:left, top:panelTop, width:PANEL_W, height:PANEL_H, show:true, borderColor:'#333333', borderWidth:2, backgroundColor:'#ffffff'});
    graphics.push({type:'rect', shape:{x:left, y:stripTop, width:PANEL_W, height:STRIP_H}, z:90,
      style:{fill:'#d9d9d9', stroke:'#333333', lineWidth:2}});
    graphics.push({type:'text', x:left+PANEL_W/2, y:stripTop+STRIP_H/2+3, z:91,
      style:{text:stripLabels[c], fontSize:30, fontFamily:FONT, fill:'#1a1a1a', align:'center', verticalAlign:'middle', textAlign:'center', textVerticalAlign:'middle'}});
    xAxes.push({type:'value', gridIndex:gi, min:row.xr[0], max:row.xr[1],
      axisLine:{show:false}, splitLine:{show:false},
      axisTick:{show:true, customValues:row.xt, length:9, lineStyle:{color:'#333333', width:2}},
      axisLabel:{show:true, customValues:row.xt, margin:19, fontSize:30, color:'#4d4d4d', fontFamily:FONT}});
    yAxes.push({type:'value', gridIndex:gi, min:row.yr[0], max:row.yr[1],
      axisLine:{show:false}, splitLine:{show:false},
      axisTick:{show:c===0, customValues:row.yt, length:9, lineStyle:{color:'#333333', width:2}},
      axisLabel:{show:c===0, customValues:row.yt, margin:18, fontSize:30, color:'#4d4d4d', fontFamily:FONT}});
    const gdata = [];
    row.xt.forEach(v=>gdata.push([v,row.yr[0],0]));
    mids(row.xt).forEach(v=>gdata.push([v,row.yr[0],1]));
    row.yt.forEach(v=>gdata.push([row.xr[0],v,2]));
    mids(row.yt).forEach(v=>gdata.push([row.xr[0],v,3]));
    series.push({type:'custom', xAxisIndex:gi, yAxisIndex:gi, z:1, silent:true, data:gdata, encode:{x:0,y:1}, renderItem:gridRender});
    series.push({type:'scatter', xAxisIndex:gi, yAxisIndex:gi, z:2, silent:true, data:row.pts[c], symbolSize:11, itemStyle:{color:'#000000'}});
    const band = row.bands[c];
    series.push({type:'custom', xAxisIndex:gi, yAxisIndex:gi, z:3, silent:true, data:band, encode:{x:0,y:[1,2]},
      renderItem:function(params, api){
        if (params.dataIndex!==0) return null;
        const lo = band.map(b=>api.coord([b[0],b[1]]));
        const hi = band.map(b=>api.coord([b[0],b[2]])).reverse();
        return {type:'polygon', shape:{points:lo.concat(hi)}, style:{fill:'rgba(153,153,153,0.4)'}};
      }});
    series.push({type:'line', xAxisIndex:gi, yAxisIndex:gi, z:4, silent:true, data:row.fits[c], symbol:'none', lineStyle:{color:LINE_COLOR, width:5}});
    const rv = rValues[r][c], pv = pTexts[r][c];
    series.push({type:'scatter', xAxisIndex:gi, yAxisIndex:gi, z:5, silent:true, data:[statLabelPos[r]], symbolSize:0,
      label:{show:true, position:'right', distance:2,
        formatter:'{i|R}{n| = '+rv+', }{i|p}{n| '+pv+'}',
        rich:{i:{fontStyle:'italic', fontSize:37, fontFamily:FONT, color:'#000'}, n:{fontSize:37, fontFamily:FONT, color:'#000'}}}});
  }
});

const chart = echarts.init(document.getElementById('c'), null, {renderer:'canvas'});
chart.setOption({
  animation:false,
  backgroundColor:'#ffffff',
  grid:grids, xAxis:xAxes, yAxis:yAxes, series:series,
  graphic:{elements:graphics}
});
</script></body></html>
